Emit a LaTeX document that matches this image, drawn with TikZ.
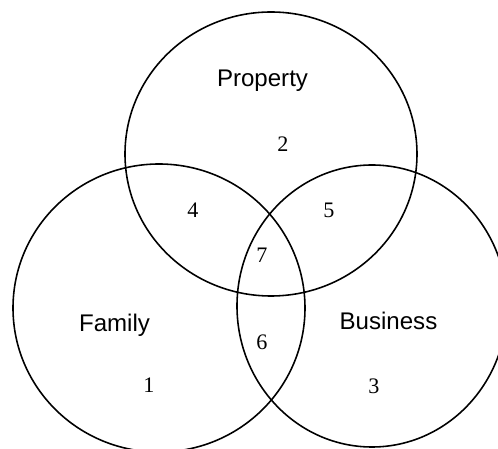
\documentclass[tikz,border=0pt]{standalone}
\usepackage{fontspec}
\setmainfont{Liberation Serif}
\newfontfamily\setnamefont{Liberation Sans}

\begin{document}
\begin{tikzpicture}[
        x=0.02cm, y=-0.02cm,
        setring/.style={draw, line width=0.9pt},
        setname/.style={font=\setnamefont\fontsize{13.7}{16}\selectfont,
            inner sep=0pt, anchor=base},
        region/.style={font=\fontsize{12.6}{15}\selectfont, inner sep=0pt,
            anchor=base},
        ]
        \useasboundingbox (0,0) rectangle (498,449);
        \clip (0,0) rectangle (498,449);

        % Sets
        \draw[setring] (271,154) ellipse [x radius=146, y radius=142];
        \draw[setring] (159,308) ellipse [x radius=146, y radius=144];
        \draw[setring] (372,306) ellipse [x radius=135, y radius=141];

        % Set names
        \node[setname] (property) at (262.5,87) {Property};
        \node[setname] (family) at (114.5,332) {Family};
        \node[setname] (business) at (388.5,330) {Business};

        % Regions
        \node[region] (r1) at (149,393) {1};
        \node[region] (r2) at (283,152) {2};
        \node[region] (r3) at (374,394) {3};
        \node[region] (r4) at (193,218) {4};
        \node[region] (r5) at (329,218) {5};
        \node[region] (r6) at (262,350) {6};
        \node[region] (r7) at (262,263) {7};
    \end{tikzpicture}
\end{document}
